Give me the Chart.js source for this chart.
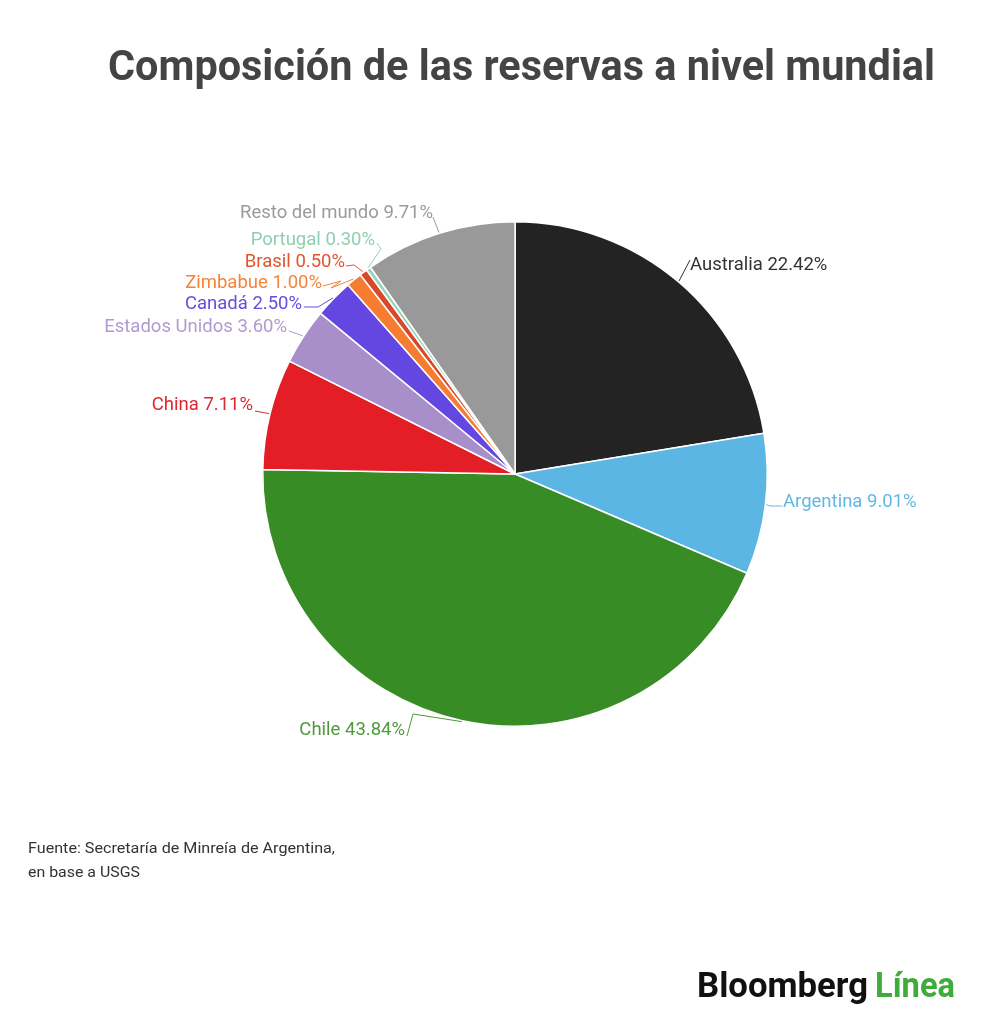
<!DOCTYPE html>
<html><head><meta charset="utf-8">
<script src="https://cdn.jsdelivr.net/npm/chart.js@4"></script>
<style>html,body{margin:0;padding:0;background:#fff}#wrap{width:1000px;height:1027px;position:relative}</style>
</head><body><div id="wrap"><canvas id="c"></canvas></div>
<script>
// ---- data ----
const categories = ['Australia','Argentina','Chile','China','Estados Unidos','Canadá','Zimbabue','Brasil','Portugal','Resto del mundo'];
const shares = [22.42, 9.01, 43.84, 7.11, 3.60, 2.50, 1.00, 0.50, 0.30, 9.71];
const sliceColors = ['#232323','#5cb6e4','#388c25','#e31e26','#a98fca','#6447e0','#f57c30','#d9482a','#97d4b8','#999999'];
const labelColors = ['#333333','#62b8e3','#4f9a3e','#e0262e','#b09bd0','#6a4ae0','#f5843a','#e0552f','#8fcfb0','#9a9a9a'];
const titleText = 'Composición de las reservas a nivel mundial';
const sourceLines = ['Fuente: Secretaría de Minreía de Argentina,', 'en base a USGS'];

// ---- label layout (positions only) ----
const labelLayout = [
  {x:690, y:265, align:'left',  attach:[690,260], elbows:[]},
  {x:783, y:502, align:'left',  attach:[782,506], elbows:[[770,506]]},
  {x:405, y:730, align:'right', attach:[407,736], elbows:[[413,714]]},
  {x:253, y:405, align:'right', attach:[255,411], elbows:[]},
  {x:287, y:327, align:'right', attach:[289,331], elbows:[]},
  {x:302, y:304, align:'right', attach:[304,307], elbows:[[318,307]]},
  {x:322, y:283, align:'right', attach:[323,286], elbows:[[331,288],[341,281]]},
  {x:345, y:262, align:'right', attach:[346,266], elbows:[[354,265]]},
  {x:375, y:240, align:'right', attach:[377,243], elbows:[[381,249]]},
  {x:433, y:213, align:'right', attach:[433,217], elbows:[]}
];

function fitText(ctx, text, x, y, font, width, color) {
  ctx.save();
  ctx.font = font;
  ctx.fillStyle = color;
  ctx.textBaseline = 'alphabetic';
  ctx.textAlign = 'left';
  const w = ctx.measureText(text).width;
  ctx.translate(x, y);
  ctx.scale(width / w, 1);
  ctx.fillText(text, 0, 0);
  ctx.restore();
}

const decor = {
  id: 'decor',
  afterDraw(chart) {
    const ctx = chart.ctx;
    const meta = chart.getDatasetMeta(0);
    meta.data.forEach((arc, i) => {
      const L = labelLayout[i];
      const p = arc.getProps(['x','y','startAngle','endAngle','outerRadius'], true);
      const mid = (p.startAngle + p.endAngle) / 2;
      const ex = p.x + Math.cos(mid) * (p.outerRadius + 1);
      const ey = p.y + Math.sin(mid) * (p.outerRadius + 1);
      ctx.save();
      ctx.strokeStyle = labelColors[i];
      ctx.lineWidth = 1;
      ctx.beginPath();
      ctx.moveTo(ex, ey);
      L.elbows.forEach(e => ctx.lineTo(e[0], e[1]));
      ctx.lineTo(L.attach[0], L.attach[1]);
      ctx.stroke();
      ctx.font = '18.5px Roboto';
      ctx.fillStyle = labelColors[i];
      ctx.textAlign = L.align;
      ctx.textBaseline = 'middle';
      ctx.fillText(categories[i] + ' ' + shares[i].toFixed(2) + '%', L.x, L.y);
      ctx.restore();
    });
    fitText(ctx, titleText, 108, 80, 'bold 42px Roboto', 827, '#444444');
    fitText(ctx, sourceLines[0], 28, 853, '14px Roboto', 307, '#333333');
    fitText(ctx, sourceLines[1], 28, 877, '14px Roboto', 112, '#333333');
    fitText(ctx, 'Bloomberg', 697, 997, 'bold 35px Roboto', 171, '#111111');
    fitText(ctx, 'Línea', 875, 997, 'bold 35px Roboto', 80, '#3fab3a');
  }
};

new Chart(document.getElementById('c'), {
  type: 'pie',
  data: {
    labels: categories,
    datasets: [{
      data: shares,
      backgroundColor: sliceColors,
      borderColor: '#ffffff',
      borderWidth: 1.5
    }]
  },
  options: {
    responsive: true,
    maintainAspectRatio: false,
    animation: false,
    layout: { padding: { left: 262, right: 232, top: 221, bottom: 300 } },
    plugins: { legend: { display: false }, tooltip: { enabled: false }, title: { display: false } }
  },
  plugins: [decor]
});
</script>
</body></html>
